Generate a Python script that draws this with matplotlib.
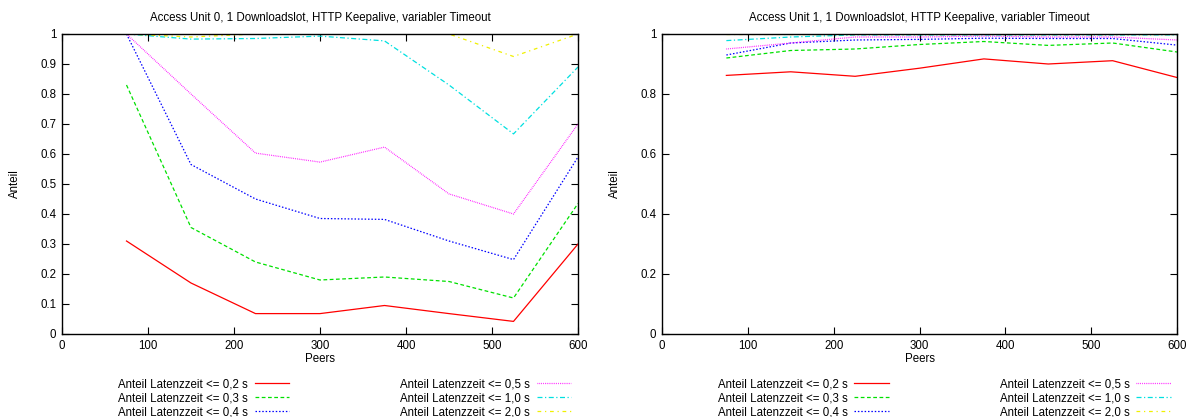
import matplotlib
matplotlib.use("Agg")
import matplotlib.pyplot as plt

plt.rcParams['font.family'] = ['Liberation Sans', 'DejaVu Sans']
plt.rcParams['font.size'] = 8.3

peers = [75, 150, 225, 300, 375, 450, 525, 600]
labels = ["Anteil Latenzzeit <= 0,2 s", "Anteil Latenzzeit <= 0,3 s",
          "Anteil Latenzzeit <= 0,4 s", "Anteil Latenzzeit <= 0,5 s",
          "Anteil Latenzzeit <= 1,0 s", "Anteil Latenzzeit <= 2,0 s"]

# Access Unit 0
au0_02 = [0.31, 0.17, 0.068, 0.068, 0.095, 0.068, 0.042, 0.30]
au0_03 = [0.83, 0.355, 0.24, 0.18, 0.19, 0.175, 0.12, 0.435]
au0_04 = [1.0, 0.565, 0.45, 0.385, 0.382, 0.31, 0.248, 0.59]
au0_05 = [1.0, 0.80, 0.603, 0.573, 0.623, 0.467, 0.40, 0.70]
au0_10 = [1.0, 0.983, 0.985, 0.993, 0.977, 0.83, 0.667, 0.89]
au0_20 = [1.0, 0.99, 1.0, 1.0, 1.0, 1.0, 0.925, 1.0]

# Access Unit 1
au1_02 = [0.862, 0.874, 0.859, 0.886, 0.917, 0.900, 0.911, 0.855]
au1_03 = [0.92, 0.945, 0.95, 0.965, 0.975, 0.962, 0.97, 0.94]
au1_04 = [0.93, 0.97, 0.98, 0.982, 0.986, 0.985, 0.985, 0.963]
au1_05 = [0.95, 0.97, 0.99, 0.99, 0.993, 0.99, 0.99, 0.98]
au1_10 = [0.978, 0.99, 0.997, 0.997, 0.997, 0.997, 0.997, 0.997]
au1_20 = [1.0, 1.0, 1.0, 1.0, 1.0, 1.0, 1.0, 1.0]

titles = ["Access Unit 0, 1 Downloadslot, HTTP Keepalive, variabler Timeout",
          "Access Unit 1, 1 Downloadslot, HTTP Keepalive, variabler Timeout"]

colors = ['#ff0000', '#00e000', '#0000ff', '#ff00ff', '#00e0e0', '#f0f000']
styles = ['-', (0, (3, 2)), (0, (1.2, 1.5)), (0, (0.6, 0.9)),
          (0, (4, 2, 1, 2)), (0, (3, 3, 1, 3))]

fig = plt.figure(figsize=(11.92, 4.17), dpi=100)
ax0 = fig.add_axes([62/1192, 1-334/417, 516/1192, 300/417])
ax1 = fig.add_axes([662/1192, 1-334/417, 515/1192, 300/417])

data_sets = [[au0_02, au0_03, au0_04, au0_05, au0_10, au0_20],
             [au1_02, au1_03, au1_04, au1_05, au1_10, au1_20]]

for i, (ax, ds) in enumerate(zip([ax0, ax1], data_sets)):
    for y, c, ls, lab in zip(ds, colors, styles, labels):
        ax.plot(peers, y, color=c, linestyle=ls, linewidth=0.9, label=lab)
    ax.set_xlim(0, 600)
    ax.set_ylim(0, 1)
    ax.set_xticks(range(0, 601, 100))
    if i == 0:
        ax.set_yticks([k/10 for k in range(11)])
        ax.set_yticklabels(['0'] + ['0.%d' % k for k in range(1, 10)] + ['1'])
    else:
        ax.set_yticks([0, 0.2, 0.4, 0.6, 0.8, 1.0])
        ax.set_yticklabels(['0', '0.2', '0.4', '0.6', '0.8', '1'])
    ax.tick_params(direction='in', top=True, right=True, length=5, width=0.8,
                   labelsize=8.3, pad=4)
    for s in ax.spines.values():
        s.set_linewidth(1.0)
    ax.set_title(titles[i], fontsize=8.3, pad=9)
    ax.set_xlabel('Peers', fontsize=8.3, labelpad=1)
    ax.set_ylabel('Anteil', fontsize=8.3, labelpad=14)
    ax.legend(loc='upper left', bbox_to_anchor=(0.108, -0.147), ncol=2,
              frameon=False, markerfirst=False, fontsize=8.3, handlelength=3.0,
              labelspacing=0.18, columnspacing=9.6, handletextpad=0.6,
              borderpad=0, borderaxespad=0)

fig.savefig('out.png', dpi=100)
